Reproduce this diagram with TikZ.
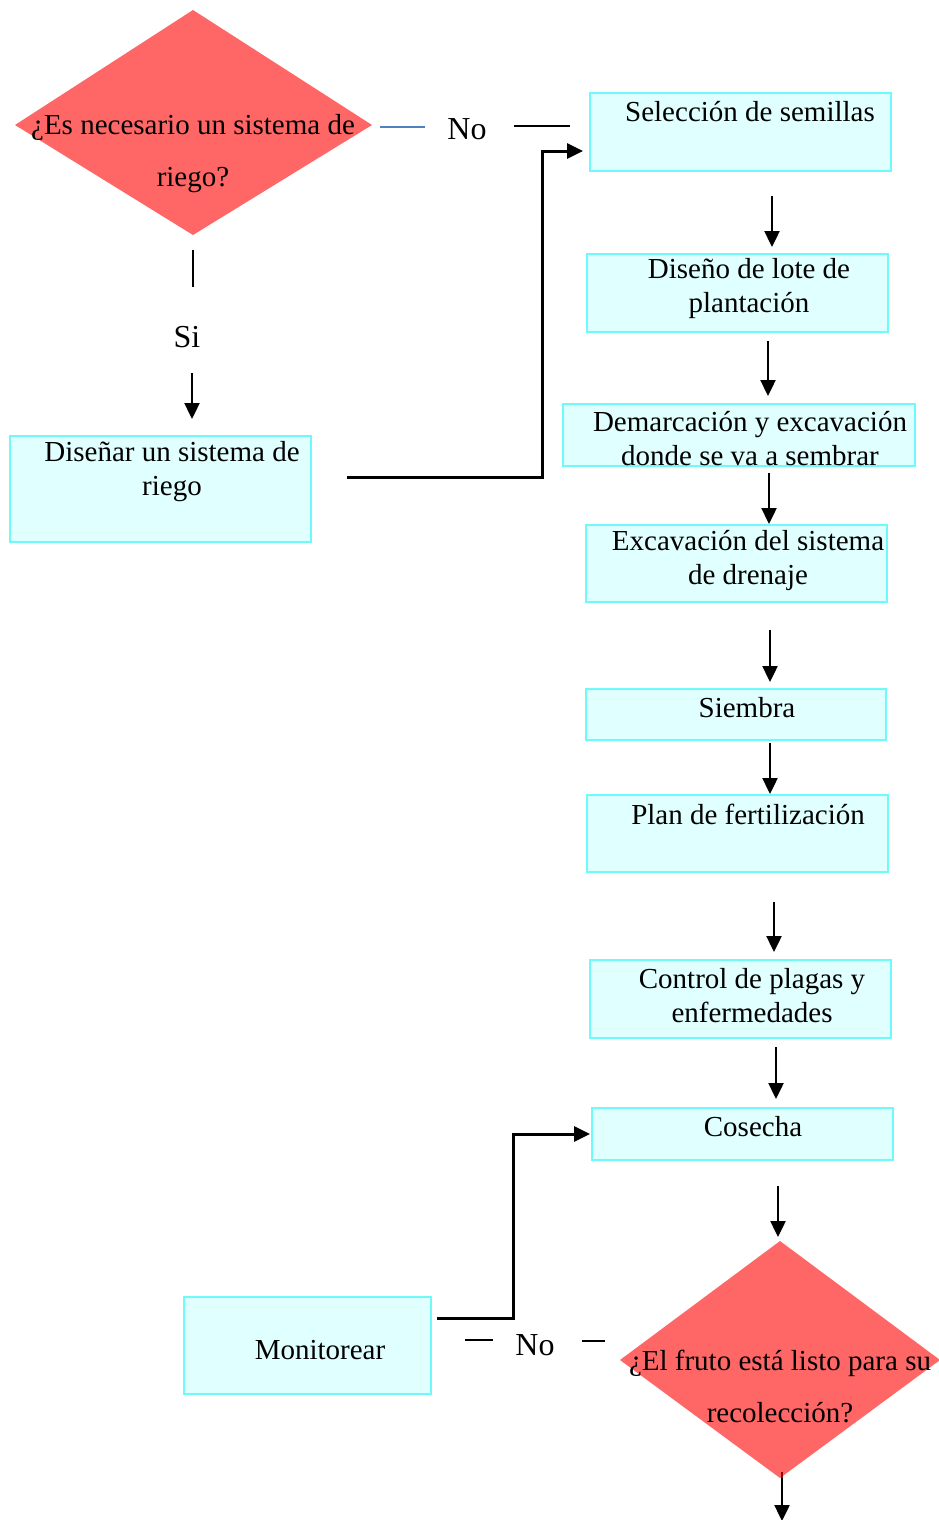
\documentclass[tikz,border=0pt]{standalone}
\usepackage{fontspec}
\setmainfont{Liberation Serif}
\usetikzlibrary{arrows.meta,shapes.geometric}
\definecolor{boxfill}{RGB}{224,255,255}
\definecolor{boxline}{RGB}{110,250,250}
\definecolor{decfill}{RGB}{255,102,102}
\definecolor{blueline}{RGB}{79,129,189}
\tikzset{
  box/.style={draw=boxline, fill=boxfill, line width=1.2pt, rectangle, inner sep=0pt},
  boxtxt/.style={font=\fontsize{29}{34}\selectfont, align=center, inner sep=0pt},
  dectxt/.style={font=\fontsize{29}{52}\selectfont, align=center, inner sep=0pt},
  lbl/.style={font=\fontsize{32}{34}\selectfont, inner sep=0pt},
  arr/.style={line width=2.4pt, -{Triangle[length=16pt,width=15pt]}},
  conn/.style={line width=3pt},
  thin/.style={line width=2pt},
}
\begin{document}
\begin{tikzpicture}[x=1pt,y=-1pt]
\useasboundingbox (0,0) rectangle (939,1520);
% decision 1
\fill[decfill] (193,10) -- (372,125) -- (193,235) -- (15,125) -- cycle;
\node[dectxt] (d1) at (193,154) {¿Es necesario un sistema de\\riego?};
% boxes
\node[box, minimum width=301pt, minimum height=78pt] (b1) at (740.5,132) {};
\node[boxtxt] (t1) at (750,112) {Selección de semillas};
\node[box, minimum width=301pt, minimum height=78pt] (b2) at (737.5,293) {};
\node[boxtxt] (t2) at (749,289) {Diseño de lote de\\plantación};
\node[box, minimum width=352pt, minimum height=62pt] (b3) at (739,435) {};
\node[boxtxt] (t3) at (750,439) {Demarcación y excavación\\donde se va a sembrar};
\node[box, minimum width=301pt, minimum height=77pt] (b4) at (736.5,563.5) {};
\node[boxtxt] (t4) at (748,560) {Excavación del sistema\\de drenaje};
\node[box, minimum width=300pt, minimum height=51pt] (b5) at (736,714.5) {};
\node[boxtxt] (t5) at (747,708) {Siembra};
\node[box, minimum width=301pt, minimum height=77pt] (b6) at (737.5,833.5) {};
\node[boxtxt] (t6) at (748,814) {Plan de fertilización};
\node[box, minimum width=301pt, minimum height=78pt] (b7) at (740.5,999) {};
\node[boxtxt] (t7) at (752,996) {Control de plagas y\\enfermedades};
\node[box, minimum width=301pt, minimum height=52pt] (b8) at (742.5,1134) {};
\node[boxtxt] (t8) at (753,1127) {Cosecha};
\node[box, minimum width=301pt, minimum height=106pt] (b9) at (160.5,489) {};
\node[boxtxt] (t9) at (172,472) {Diseñar un sistema de\\riego};
\node[box, minimum width=247pt, minimum height=97pt] (b10) at (307.5,1345.5) {};
\node[boxtxt] (t10) at (320,1350) {Monitorear};
% decision 2
\fill[decfill] (780,1241) -- (940,1360) -- (780,1478) -- (620,1360) -- cycle;
\node[dectxt] (d2) at (780,1386) {¿El fruto está listo para su\\recolección?};
% labels
\node[lbl] (no1) at (467,129) {No};
\node[lbl] (si) at (187,337) {Si};
\node[lbl] (no2) at (535,1345) {No};
% No branch top
\coordinate (nA) at (380,127);
\coordinate (nB) at (425,127);
\draw[line width=2pt, blueline] (nA) -- (nB);
\coordinate (nC) at (514,126);
\coordinate (nD) at (570,126);
\draw[thin] (nC) -- (nD);
% Si branch
\coordinate (sA) at (193,250);
\coordinate (sB) at (193,287);
\draw[thin] (sA) -- (sB);
\draw[arr] (192,373) -- (192,419);
% design system to seeds
\coordinate (r1) at (347,477);
\draw[conn, -{Triangle[length=16pt,width=15pt]}] (r1) -- (542,477) -- (542,151) -- (583,151);
% vertical chain arrows
\draw[arr] (772,196) -- (772,247);
\draw[arr] (768,341) -- (768,396);
\draw[arr] (769,473) -- (769,524);
\draw[arr] (770,630) -- (770,682);
\draw[arr] (770,743) -- (770,794);
\draw[arr] (774,902) -- (774,952);
\draw[arr] (776,1047) -- (776,1099);
\draw[arr] (778,1186) -- (778,1237);
% bottom
\draw[thin, red!60!black] (782,1472) -- (782,1478);
\draw[arr] (782,1478) -- (782,1521);
% No branch bottom
\draw[thin] (465,1340) -- (493,1340);
\draw[thin] (582,1341) -- (605,1341);
\coordinate (m1) at (437,1318);
\draw[conn, -{Triangle[length=16pt,width=15pt]}] (m1) -- (513,1318) -- (513,1134) -- (590,1134);
\end{tikzpicture}
\end{document}
